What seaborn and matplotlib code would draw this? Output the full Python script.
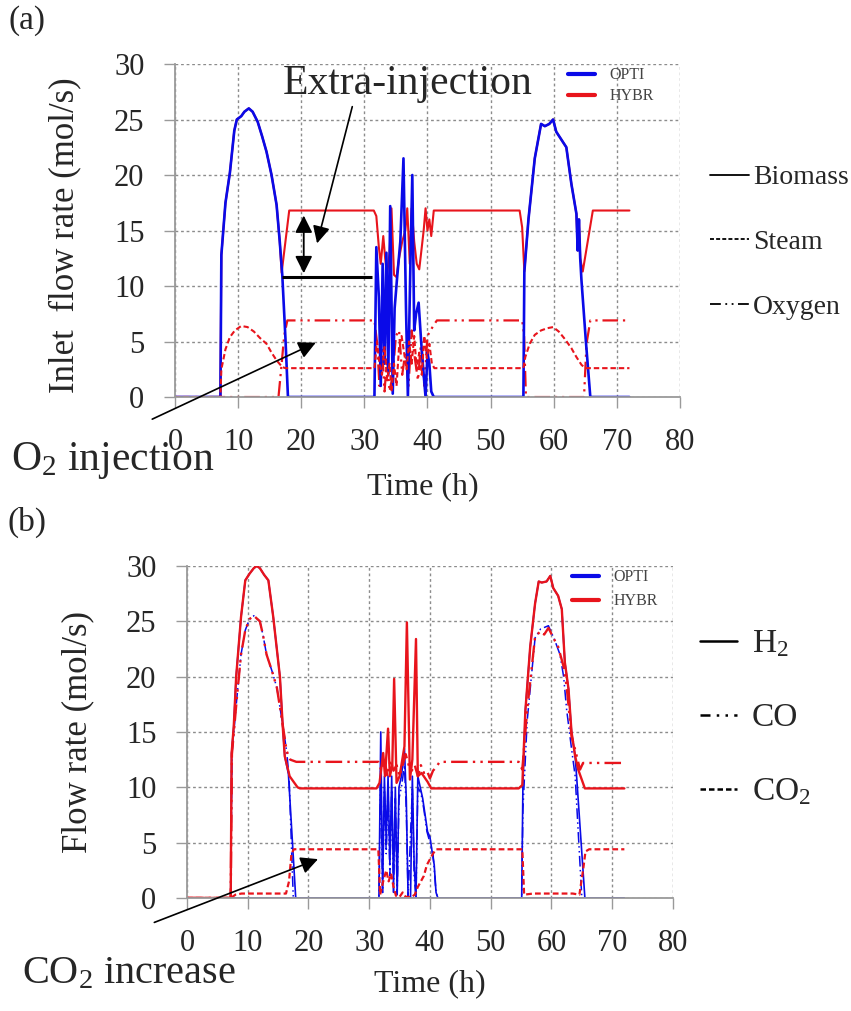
import matplotlib
matplotlib.use("Agg")
import matplotlib.pyplot as plt
from matplotlib.lines import Line2D
import seaborn as sns

# ---- data ----
# (a) inlet flow rates (mol/s) vs time (h)
t_biomass_opti = [0, 7.2, 7.35, 8.0, 8.7, 9.4, 9.8, 10.5, 11.0, 11.7, 12.3, 13.1, 13.8, 14.5, 15.3, 16.1, 16.6, 17.0, 17.5, 17.9,
                  31.6, 31.9, 32.3, 32.6, 32.9, 33.2, 33.5, 33.8, 34.1, 34.5, 34.8, 35.2, 35.7, 36.2, 36.6, 36.9, 37.3, 37.6, 37.9,
                  38.2, 38.6, 39.0, 39.4, 39.7, 40.0, 40.3, 40.6, 41.0,
                  55.2, 55.35, 56.0, 57.0, 58.0, 58.6, 59.3, 59.9, 60.4, 61.2, 62.0, 62.8, 63.6, 63.8, 64.0, 64.2, 64.4, 65.1, 65.8, 72]
biomass_opti = [0, 0, 12.8, 17.5, 20.2, 24.0, 25.0, 25.3, 25.7, 26.0, 25.7, 24.8, 23.5, 22.1, 20.0, 17.3, 14.0, 11.0, 5.3, 0,
                0, 13.5, 9.0, 1.0, 12.0, 3.0, 13.0, 2.0, 17.2, 0.3, 8.0, 10.8, 14.0, 21.5, 8.0, 0.0, 12.0, 20.0, 6.0,
                7.5, 8.5, 5.0, 2.0, 0.0, 4.0, 3.0, 0.5, 0,
                0, 11.3, 16.0, 21.5, 24.6, 24.4, 24.6, 25.0, 23.9, 23.2, 22.5, 19.2, 16.5, 13.2, 16.0, 12.5, 10.5, 5.0, 0, 0]

t_biomass_hybr = [0, 7.2, 7.35, 8.0, 8.7, 9.4, 9.8, 10.5, 11.0, 11.7, 12.3, 13.1, 13.8, 14.5, 15.3, 16.1, 16.6, 16.9, 18.1,
                  31.5, 31.9, 32.3, 32.6, 33.0, 33.3, 33.6, 34.0, 34.3, 34.7, 35.1, 35.5, 36.0, 36.5, 36.8, 37.2, 37.5, 37.9,
                  38.3, 38.7, 39.0, 39.4, 39.7, 40.0, 40.3, 40.6, 41.0,
                  54.6, 55.0, 55.35, 56.0, 57.0, 58.0, 58.6, 59.3, 59.9, 60.4, 61.2, 62.0, 62.8, 63.6, 63.8, 64.0, 64.2, 64.6, 66.2, 72]
biomass_hybr = [0, 0, 12.8, 17.5, 20.2, 24.0, 25.0, 25.3, 25.7, 26.0, 25.7, 24.8, 23.5, 22.1, 20.0, 17.3, 14.0, 11.2, 16.8,
                16.8, 16.3, 13.5, 12.0, 14.5, 12.5, 11.0, 13.0, 17.0, 11.0, 10.8, 12.5, 14.0, 15.0, 17.0, 12.0, 17.0, 14.0,
                12.0, 11.5, 13.0, 15.0, 17.0, 15.0, 16.0, 14.5, 16.8,
                16.8, 15.3, 11.3, 16.0, 21.5, 24.6, 24.4, 24.6, 25.0, 23.9, 23.2, 22.5, 19.2, 16.5, 13.2, 16.0, 12.5, 11.3, 16.8, 16.8]

t_steam_hybr = [0, 7.2, 7.35, 8.0, 8.7, 9.5, 10.5, 11.5, 12.5, 13.5, 14.5, 15.3, 16.1, 17.0, 17.5,
                31.6, 32.0, 32.4, 32.8, 33.2, 33.6, 34.0, 34.3, 34.7, 35.1, 35.5, 35.9, 36.3, 36.7, 37.1, 37.5, 37.9,
                38.3, 38.7, 39.1, 39.5, 39.9, 40.3, 40.7, 41.1,
                55.2, 55.5, 56.2, 57.0, 58.0, 59.0, 59.9, 60.8, 61.8, 62.8, 63.6, 64.4, 65.0, 72]
steam_hybr = [0, 0, 2.5, 4.3, 5.4, 6.0, 6.4, 6.3, 5.9, 5.3, 4.8, 4.0, 3.3, 2.7, 2.6,
              2.6, 5.0, 3.0, 2.0, 4.5, 1.5, 3.0, 0.5, 3.0, 1.0, 4.5, 5.5, 4.0, 2.5, 5.0, 3.0, 5.5,
              2.5, 4.0, 2.0, 5.5, 3.5, 4.8, 3.0, 2.6,
              2.6, 3.6, 4.8, 5.6, 6.0, 6.2, 6.3, 5.9, 5.2, 4.4, 3.6, 2.9, 2.6, 2.6]

t_oxygen_hybr = [0, 16.4, 16.9, 17.3, 17.8, 31.6, 32.0, 32.4, 32.8, 33.2, 33.6, 34.0, 34.5, 35.0, 35.5, 36.0, 36.5,
                 37.0, 37.5, 38.0, 38.5, 39.0, 39.5, 40.0, 40.5, 41.0, 41.5, 55.0, 55.3, 55.6, 64.8, 65.2, 65.8, 72]
oxygen_hybr = [0, 0, 3.0, 5.5, 6.9, 6.9, 5.0, 1.0, 4.5, 0.5, 3.5, 0.5, 2.0, 5.5, 6.0, 2.0, 4.0,
               1.0, 6.0, 3.5, 1.5, 5.0, 1.0, 5.5, 6.0, 6.5, 6.9, 6.9, 5.7, 0, 0, 4.8, 6.9, 6.9]

# (b) outlet flow rates (mol/s) vs time (h)
t_h2_hybr = [0, 7.2, 7.35, 7.7, 8.1, 8.9, 9.6, 10.3, 11.0, 11.5, 12.0, 12.7, 13.4, 14.2, 15.3, 15.8, 16.1, 16.9, 18.2, 18.6,
             31.2, 31.7, 32.3, 32.6, 33.1, 33.4, 33.8, 34.1, 34.5, 35.0, 35.8, 36.2, 36.7, 37.1, 37.7, 38.0, 38.6, 39.1, 39.6, 40.2,
             54.6, 55.2, 55.7, 56.5, 57.3, 57.9, 58.4, 59.2, 59.8, 60.3, 61.1, 61.7, 62.2, 62.8, 63.3, 63.9, 64.4, 65.5, 72]
h2_hybr = [0, 0, 13.1, 15.5, 20.0, 25.4, 28.7, 29.3, 29.8, 30.0, 29.8, 29.2, 28.7, 25.4, 20.0, 15.2, 12.8, 11.0, 10.0, 9.9,
           9.9, 10.4, 13.1, 11.0, 15.3, 11.0, 12.0, 19.8, 10.4, 11.0, 13.7, 24.9, 10.7, 12.5, 23.4, 11.0, 11.3, 10.9, 10.5, 9.9,
           9.9, 10.2, 16.9, 22.7, 26.6, 28.6, 28.5, 28.6, 29.1, 28.0, 27.3, 26.1, 21.3, 18.9, 15.0, 12.8, 11.6, 9.9, 9.9]

t_h2_opti = [0, 7.2, 7.35, 7.7, 8.1, 8.9, 9.6, 10.3, 11.0, 11.5, 12.0, 12.7, 13.4, 14.2, 15.3, 15.8, 16.1, 16.7, 17.9,
             31.6, 31.9, 32.2, 32.5, 32.8, 33.1, 33.4, 33.7, 34.0, 34.3, 34.6, 34.9, 35.3, 35.8, 36.1, 36.4, 36.8, 37.1, 37.4, 37.7,
             38.0, 38.4, 38.8, 39.2, 39.6, 40.0, 40.4, 40.7, 41.0, 41.3,
             55.1, 55.3, 55.7, 56.5, 57.3, 57.9, 58.4, 59.2, 59.8, 60.3, 61.1, 61.7, 62.2, 62.8, 63.3, 63.9, 64.2, 65.5, 72]
h2_opti = [0, 0, 13.1, 15.5, 20.0, 25.4, 28.7, 29.3, 29.8, 30.0, 29.8, 29.2, 28.7, 25.4, 20.0, 15.2, 12.8, 11.2, 0,
           0, 15.0, 0.5, 11.0, 5.0, 11.0, 3.0, 11.0, 1.0, 10.0, 0.3, 10.0, 11.0, 13.5, 9.0, 0, 0, 11.0, 3.0, 0,
           11.0, 10.0, 9.0, 7.5, 6.0, 5.5, 4.0, 3.0, 0.5, 0,
           0, 10.2, 16.9, 22.7, 26.6, 28.6, 28.5, 28.6, 29.1, 28.0, 27.3, 26.1, 21.3, 18.9, 15.0, 12.8, 10.5, 0, 0]

t_co_hybr = [0, 7.2, 7.4, 8.2, 8.9, 9.6, 10.3, 11.0, 12.0, 12.5, 13.1, 14.0, 14.8, 15.8, 16.4, 17.0, 18.0,
             31.5, 32.0, 32.5, 33.0, 33.5, 34.0, 34.5, 35.0, 35.5, 36.0, 36.5, 37.0, 37.5, 38.0, 38.5, 39.0, 39.5, 40.0, 40.5, 41.0, 41.6,
             54.6, 55.2, 56.0, 57.3, 58.2, 58.8, 59.5, 60.6, 61.1, 62.0, 62.5, 63.3, 63.9, 64.7, 65.2, 72]
co_hybr = [0, 0, 13.0, 18.0, 22.0, 24.2, 25.2, 25.5, 25.0, 23.8, 22.0, 20.5, 19.0, 15.5, 13.3, 12.5, 12.3,
           12.3, 11.5, 12.5, 11.0, 12.5, 11.5, 12.0, 11.0, 12.0, 13.0, 12.0, 11.5, 12.0, 11.0, 12.0, 11.3, 11.5, 10.8, 11.5, 11.8, 12.3,
           12.3, 11.6, 17.0, 23.6, 24.1, 23.8, 24.4, 23.2, 22.7, 20.9, 19.1, 14.6, 13.4, 11.6, 12.2, 12.2]

t_co_opti = [0, 7.2, 7.4, 8.2, 8.9, 9.6, 10.3, 11.0, 12.0, 12.5, 13.1, 14.0, 14.8, 15.8, 16.4, 16.8, 17.5,
             31.6, 31.9, 32.2, 32.5, 32.8, 33.1, 33.4, 33.7, 34.0, 34.3, 34.6, 34.9, 35.3, 35.8, 36.1, 36.4, 37.1, 37.4, 37.7,
             38.0, 38.5, 39.0, 39.5, 40.0, 40.5, 41.0, 41.3,
             55.1, 55.3, 56.0, 57.3, 58.2, 59.5, 60.6, 61.4, 62.0, 62.5, 63.3, 63.9, 64.5, 65.0, 72]
co_opti = [0, 0, 13.0, 18.0, 22.0, 24.2, 25.2, 25.5, 25.0, 23.8, 22.0, 20.5, 19.0, 15.5, 13.3, 11.0, 0,
           0, 12.0, 0.5, 10.0, 4.0, 10.0, 2.0, 10.0, 0.5, 9.0, 0.3, 9.0, 10.0, 12.0, 8.0, 0, 10.0, 2.0, 0,
           10.0, 9.5, 8.0, 6.0, 5.0, 4.0, 0.5, 0,
           0, 8.0, 16.0, 23.5, 24.3, 24.6, 23.2, 22.0, 20.0, 17.0, 13.5, 11.0, 5.0, 0, 0]

t_co2_hybr = [0, 7.2, 8.0, 9.0, 16.3, 16.8, 17.2, 17.6,
              31.5, 31.8, 32.3, 32.8, 33.2, 33.6, 34.0, 34.4, 35.0, 35.5, 36.0, 37.0, 37.5, 38.0, 38.5, 39.0, 39.5, 40.0, 40.5, 41.0,
              55.2, 55.5, 57.0, 63.5, 64.6, 65.2, 65.6, 66.2, 72]
co2_hybr = [0, 0, 0.3, 0.4, 0.4, 1.5, 4.0, 4.4,
            4.4, 0.3, 1.5, 2.5, 1.5, 2.2, 1.0, 0.2, 0.1, 0.5, 0.1, 0.1, 0.3, 1.0, 1.5, 2.0, 3.0, 3.5, 4.0, 4.4,
            4.4, 0.3, 0.4, 0.4, 0.3, 2.5, 4.2, 4.4, 4.4]

t_co2_opti = [0, 72]
co2_opti = [0, 0]

x_ticks = [0, 10, 20, 30, 40, 50, 60, 70, 80]
y_ticks = [0, 5, 10, 15, 20, 25, 30]

BLUE = "#0a0ae8"
RED = "#e8141c"
GRID = "#8c8c8c"
SOLID = "-"
DASHED = (0, (2.6, 1.4))
DASHDOT = (0, (7, 2.2, 1, 2.2, 1, 2.2))


def draw(ax, t, v, color, lw, ls):
    sns.lineplot(x=t, y=v, ax=ax, color=color, linewidth=lw, linestyle=ls,
                 estimator=None, sort=False, errorbar=None)


def style_axes(ax, xlabel, ylabel, ylabel_size):
    ax.set_xlim(0, 80)
    ax.set_ylim(0, 30)
    ax.set_xticks(x_ticks)
    ax.set_yticks(y_ticks)
    ax.grid(True, color=GRID, linestyle=(0, (2, 2)), linewidth=1.0)
    ax.set_axisbelow(True)
    for s in ["top", "right"]:
        ax.spines[s].set_visible(False)
    for s in ["left", "bottom"]:
        ax.spines[s].set_color("#9a9a9a")
        ax.spines[s].set_linewidth(1.3)
    ax.tick_params(bottom=True, left=True, direction="out", length=8, width=1,
                   color="#9a9a9a", labelsize=22, pad=14)
    ax.set_xlabel(xlabel, fontsize=23)
    ax.set_ylabel(ylabel, fontsize=ylabel_size)


def opti_hybr_legend(ax, anchor, spacing):
    handles = [Line2D([], [], color=BLUE, lw=3), Line2D([], [], color=RED, lw=3)]
    ax.legend(handles, ["OPTI", "HYBR"], loc="upper left", bbox_to_anchor=anchor,
              frameon=False, fontsize=11.5, handlelength=1.7, handletextpad=0.9,
              labelspacing=spacing, borderpad=0, borderaxespad=0, labelcolor="#444444")


sns.set_style("white")
plt.rcParams["font.family"] = ["Liberation Serif", "DejaVu Serif"]
plt.rcParams["mathtext.default"] = "regular"

fig = plt.figure(figsize=(8.51, 10.11), dpi=100)
ax1 = fig.add_axes([0.2056, 0.6073, 0.5934, 0.3294])
ax2 = fig.add_axes([0.2197, 0.1118, 0.5711, 0.3284])

# ---- (a) inlet ----
draw(ax1, t_oxygen_hybr, oxygen_hybr, RED, 1.6, DASHDOT)
draw(ax1, t_biomass_hybr, biomass_hybr, RED, 1.5, SOLID)
draw(ax1, t_biomass_opti, biomass_opti, BLUE, 1.9, SOLID)
draw(ax1, t_steam_hybr, steam_hybr, RED, 1.5, DASHED)
style_axes(ax1, "Time (h)", "Inlet  flow rate (mol/s)", 25)
ax1.yaxis.set_label_coords(-0.185, 0.485)
ax1.xaxis.set_label_coords(0.49, -0.225)
opti_hybr_legend(ax1, (0.778, 0.99), 0.3)

# annotations in (a)
ax1.hlines(10.8, 17.0, 31.2, color="black", linewidth=2.2)
ax1.annotate("", xy=(20.4, 16.6), xytext=(20.4, 10.9),
             arrowprops=dict(arrowstyle="<|-|>", color="black", lw=1.3, mutation_scale=26))
ax1.annotate("", xy=(22.4, 13.6), xytext=(28.2, 26.4),
             arrowprops=dict(arrowstyle="-|>", color="black", lw=1.2, mutation_scale=26))
ax1.annotate("", xy=(22.7, 5.0), xytext=(-4.0, -2.1), annotation_clip=False,
             arrowprops=dict(arrowstyle="-|>", color="black", lw=1.2, mutation_scale=26))
ax1.text(36.8, 28.2, "Extra-injection", fontsize=30, ha="center", va="center")

# ---- (b) outlet ----
draw(ax2, t_co2_opti, co2_opti, BLUE, 1.1, SOLID)
draw(ax2, t_co_opti, co_opti, BLUE, 1.1, DASHDOT)
draw(ax2, t_h2_opti, h2_opti, BLUE, 1.2, SOLID)
draw(ax2, t_co2_hybr, co2_hybr, RED, 1.6, DASHED)
draw(ax2, t_co_hybr, co_hybr, RED, 1.7, DASHDOT)
draw(ax2, t_h2_hybr, h2_hybr, RED, 1.7, SOLID)
style_axes(ax2, "Time (h)", "Flow rate (mol/s)", 25)
ax2.yaxis.set_label_coords(-0.19, 0.5)
ax2.xaxis.set_label_coords(0.5, -0.215)
opti_hybr_legend(ax2, (0.792, 0.99), 0.5)
ax2.annotate("", xy=(22.0, 3.6), xytext=(-5.8, -2.3), annotation_clip=False,
             arrowprops=dict(arrowstyle="-|>", color="black", lw=1.2, mutation_scale=26))

# ---- figure level text and gas legends ----
fig.text(0.032, 0.980, "(a)", fontsize=24, ha="center", va="center")
fig.text(0.032, 0.483, "(b)", fontsize=24, ha="center", va="center")
fig.text(0.133, 0.545, "O$_2$ injection", fontsize=30, ha="center", va="center")
fig.text(0.152, 0.037, "CO$_2$ increase", fontsize=29, ha="center", va="center")

inlet_handles = [Line2D([], [], color="black", lw=1.3, ls=SOLID),
                 Line2D([], [], color="black", lw=1.3, ls=(0, (2.2, 1.2))),
                 Line2D([], [], color="black", lw=1.3, ls=(0, (6, 2.5, 1, 2.5, 1, 2.5)))]
fig.legend(inlet_handles, ["Biomass", "Steam", "Oxygen"], loc="upper left",
           bbox_to_anchor=(0.834, 0.837), frameon=False, fontsize=20, handlelength=1.4,
           handletextpad=0.15, labelspacing=1.42, borderpad=0, borderaxespad=0)

outlet_handles = [Line2D([], [], color="black", lw=1.8, ls=SOLID),
                  Line2D([], [], color="black", lw=1.8, ls=(0, (4, 2.5, 1, 2.5, 1, 2.5))),
                  Line2D([], [], color="black", lw=1.8, ls=(0, (2.2, 1.2)))]
fig.legend(outlet_handles, ["H$_2$", "CO", "CO$_2$"], loc="upper left",
           bbox_to_anchor=(0.823, 0.378), frameon=False, fontsize=24, handlelength=1.1,
           handletextpad=0.45, labelspacing=1.3, borderpad=0, borderaxespad=0)

fig.savefig("out.png", dpi=100)
